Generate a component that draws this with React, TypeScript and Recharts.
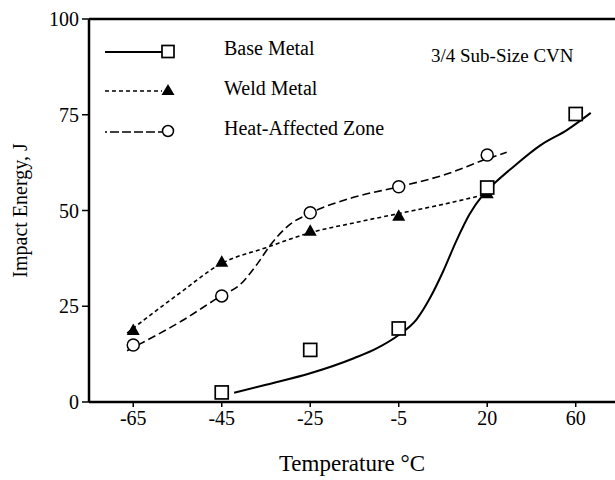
import React from "react";
import { ComposedChart, Line, Scatter, XAxis, YAxis, ReferenceLine } from "recharts";

// category labels on the x axis (evenly spaced, not to scale)
const temperatures = ["-65", "-45", "-25", "-5", "20", "60"];
const energyTicks = [0, 25, 50, 75, 100];

// measured points, one per temperature (null = not tested)
const baseMetal = [null, 2.5, 13.6, 19.2, 56, 75.2];
const weldMetal = [18.8, 36.6, 44.7, 48.6, 54.5, null];
const hazValues = [14.9, 27.7, 49.4, 56.2, 64.5, null];

// hand-fitted curves: [position along category axis, energy]
const baseFit = [
  [1.14, 2.4], [1.5, 4.5], [2.0, 7.5], [2.5, 11.5], [2.75, 14], [3.0, 17.5],
  [3.2, 21.5], [3.35, 27], [3.5, 34], [3.65, 42], [3.8, 49], [3.95, 54],
  [4.1, 57.5], [4.3, 61.5], [4.6, 67], [4.9, 71], [5.17, 75.5],
];
const weldFit = [
  [-0.07, 18], [0.5, 28], [1.0, 36.2], [1.5, 40.3], [2.0, 44.2],
  [2.5, 46.8], [3.0, 49.2], [3.5, 51.6], [4.0, 54.3],
];
const hazFit = [
  [-0.07, 13.4], [0.55, 21.2], [1.0, 27.8], [1.2, 30.5], [1.4, 36], [1.55, 41],
  [1.75, 46], [2.0, 49.3], [2.5, 53.5], [3.0, 56.2], [3.5, 59.2], [4.0, 63.5], [4.22, 65.2],
];

const FONT = "'Liberation Serif', 'Times New Roman', serif";

const toPoints = (vals: (number | null)[]) =>
  vals.map((v, i) => ({ pos: i, value: v })).filter((p) => p.value !== null);
const toCurve = (pairs: number[][]) => pairs.map(([pos, value]) => ({ pos, value }));

const Square = (p: any) => (
  <rect x={p.cx - 6.5} y={p.cy - 6.5} width={13} height={13} fill="#fff" stroke="#000" strokeWidth={1.7} />
);
const Triangle = (p: any) => (
  <polygon points={`${p.cx},${p.cy - 6.5} ${p.cx - 6.5},${p.cy + 5} ${p.cx + 6.5},${p.cy + 5}`} fill="#000" />
);
const Circle = (p: any) => <circle cx={p.cx} cy={p.cy} r={6} fill="#fff" stroke="#000" strokeWidth={1.5} />;

const txt: React.CSSProperties = { position: "absolute", fontFamily: FONT, fontSize: 20, color: "#000", whiteSpace: "nowrap", lineHeight: "22px" };

function LegendBox() {
  return (
    <>
      <svg width={615} height={160} style={{ position: "absolute", left: 0, top: 0, pointerEvents: "none" }}>
        <line x1={105} x2={162} y1={52} y2={52} stroke="#000" strokeWidth={2} />
        <rect x={162} y={45.5} width={12} height={12} fill="#fff" stroke="#000" strokeWidth={1.7} />
        <line x1={105} x2={162} y1={91} y2={91} stroke="#000" strokeWidth={1.6} strokeDasharray="4 3" />
        <polygon points="168,84 161.5,95 174.5,95" fill="#000" />
        <line x1={105} x2={162} y1={132} y2={132} stroke="#000" strokeWidth={1.6} strokeDasharray="2 3 9 3 9 3 9 3 9 3 9 3" />
        <circle cx={168} cy={131} r={5.5} fill="#fff" stroke="#000" strokeWidth={1.5} />
      </svg>
      <div style={{ ...txt, left: 224, top: 37 }}>Base Metal</div>
      <div style={{ ...txt, left: 224, top: 77 }}>Weld Metal</div>
      <div style={{ ...txt, left: 224, top: 117 }}>Heat-Affected Zone</div>
      <div style={{ ...txt, left: 431, top: 45, fontSize: 19 }}>3/4 Sub-Size CVN</div>
    </>
  );
}

export default function App() {
  const axisStyle = { fontFamily: FONT, fontSize: 20, fill: "#000" };
  return (
    <div style={{ position: "absolute", left: 0, top: 0, width: 615, height: 480, background: "#fff" }}>
      <ComposedChart width={615} height={480} margin={{ top: 19, right: 0, bottom: 0, left: 0 }}>
        <XAxis
          dataKey="pos"
          type="number"
          domain={[-0.5, 5.444]}
          ticks={[0, 1, 2, 3, 4, 5]}
          tickFormatter={(v) => temperatures[v]}
          allowDataOverflow
          height={78}
          tick={axisStyle}
          tickSize={5}
          tickMargin={4}
          axisLine={{ stroke: "#000", strokeWidth: 2.5 }}
          tickLine={{ stroke: "#000", strokeWidth: 1.5 }}
          label={{ value: "Temperature °C", position: "insideBottom", offset: 9, style: { fontFamily: FONT, fontSize: 23, fill: "#000" } }}
        />
        <YAxis
          dataKey="value"
          type="number"
          domain={[0, 100]}
          ticks={energyTicks}
          width={89}
          tick={axisStyle}
          tickSize={7}
          tickMargin={3}
          axisLine={{ stroke: "#000", strokeWidth: 2.5 }}
          tickLine={{ stroke: "#000", strokeWidth: 1.5 }}
          label={{ value: "Impact Energy, J", angle: -90, position: "insideLeft", offset: 20, style: { textAnchor: "middle", fontFamily: FONT, fontSize: 20, fill: "#000" } }}
        />
        <ReferenceLine y={100} stroke="#000" strokeWidth={2.5} ifOverflow="visible" />
        <Line data={toCurve(baseFit)} dataKey="value" type="monotone" stroke="#000" strokeWidth={2} dot={false} isAnimationActive={false} />
        <Line data={toCurve(weldFit)} dataKey="value" type="monotone" stroke="#000" strokeWidth={1.6} strokeDasharray="4 3" dot={false} isAnimationActive={false} />
        <Line data={toCurve(hazFit)} dataKey="value" type="monotone" stroke="#000" strokeWidth={1.6} strokeDasharray="8 4" dot={false} isAnimationActive={false} />
        <Scatter data={toPoints(weldMetal)} dataKey="value" shape={Triangle} isAnimationActive={false} />
        <Scatter data={toPoints(hazValues)} dataKey="value" shape={Circle} isAnimationActive={false} />
        <Scatter data={toPoints(baseMetal)} dataKey="value" shape={Square} isAnimationActive={false} />
      </ComposedChart>
      <LegendBox />
    </div>
  );
}
